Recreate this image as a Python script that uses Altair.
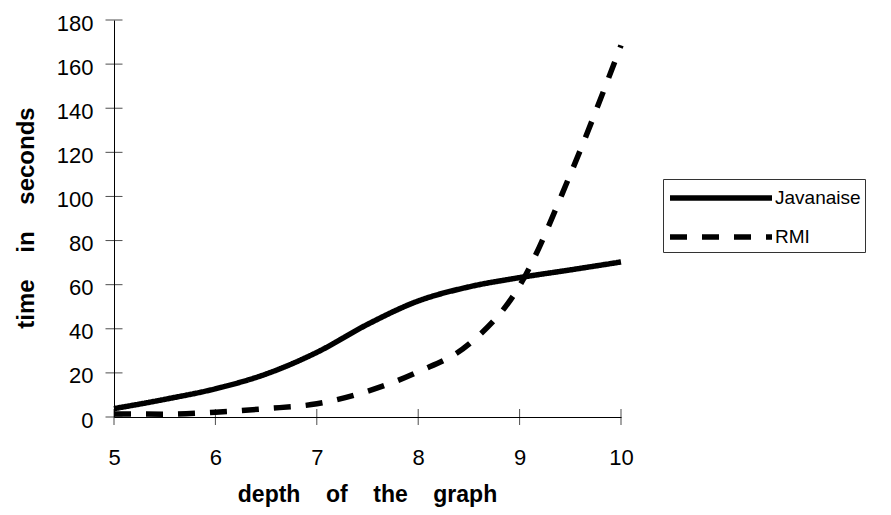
import altair as alt
import pandas as pd

# ---- data ----
depth = [5, 5.5, 6, 6.5, 7, 7.5, 8, 8.5, 9, 9.5, 10]
javanaise = [3.8, 8.0, 12.8, 19.5, 29.3, 42.0, 52.6, 59.0, 63.2, 66.7, 70.3]
rmi = [1.4, 1.3, 2.2, 3.8, 6.0, 11.7, 20.5, 33.0, 59.5, 110.0, 168.5]
series = ["Javanaise", "RMI"]
x_ticks = [5, 6, 7, 8, 9, 10]
y_ticks = [0, 20, 40, 60, 80, 100, 120, 140, 160, 180]

GAP = "\u00a0\u00a0\u00a0\u00a0"
x_title = GAP.join(["depth", "of", "the", "graph"])
y_title = GAP.join(["time", "in", "seconds"])

df = pd.DataFrame(
    {
        "depth": depth * 2,
        "time": javanaise + rmi,
        "series": [series[0]] * len(depth) + [series[1]] * len(depth),
    }
)
xt_df = pd.DataFrame({"t": x_ticks})
yt_df = pd.DataFrame({"t": y_ticks})

FONT = "Liberation Sans"
W, H = 507, 397

x_scale = alt.Scale(domain=[5, 10], nice=False, zero=False)
y_scale = alt.Scale(domain=[0, 180], nice=False)

x_axis = alt.Axis(
    values=x_ticks,
    format="d",
    ticks=False,
    tickSize=0,
    grid=False,
    domainColor="black",
    labelFont=FONT,
    labelFontSize=22,
    labelColor="black",
    labelPadding=30,
    labelFlush=False,
    titleFont=FONT,
    titleFontSize=23,
    titleFontWeight="bold",
    titleColor="black",
    titleX=253,
    titleY=84,
    titleBaseline="alphabetic",
    titleAlign="center",
)
y_axis = alt.Axis(
    values=y_ticks,
    format="d",
    ticks=False,
    tickSize=0,
    grid=False,
    domainColor="black",
    labelFont=FONT,
    labelFontSize=22,
    labelColor="black",
    labelPadding=21,
    labelOffset=3,
    labelFlush=False,
    titleFont=FONT,
    titleFontSize=24,
    titleFontWeight="bold",
    titleColor="black",
    titleAngle=270,
    titleX=-81,
    titleY=H / 2 - 1,
    titleBaseline="alphabetic",
    titleAlign="center",
)

lines = (
    alt.Chart(df)
    .mark_line(interpolate="monotone", strokeWidth=5.5, strokeCap="butt", color="black")
    .encode(
        x=alt.X("depth:Q", scale=x_scale, axis=x_axis, title=x_title),
        y=alt.Y("time:Q", scale=y_scale, axis=y_axis, title=y_title),
        strokeDash=alt.StrokeDash(
            "series:N",
            scale=alt.Scale(domain=series, range=[[1, 0], [17, 15]]),
            legend=alt.Legend(
                title=None,
                orient="none",
                legendX=549,
                legendY=159,
                symbolType="M-1,0H7.5",
                symbolSize=576,
                symbolStrokeWidth=5.5,
                symbolStrokeColor="black",
                labelFont=FONT,
                labelFontSize=19,
                labelColor="black",
                labelOffset=78,
                strokeColor="#333333",
                fillColor="white",
                padding=4,
                rowPadding=13,
            ),
        ),
    )
)

x_ticks_layer = (
    alt.Chart(xt_df)
    .mark_tick(orient="vertical", size=16, thickness=1, color="black")
    .encode(x=alt.X("t:Q", scale=x_scale, axis=x_axis, title=x_title), y=alt.datum(0))
)
y_ticks_layer = (
    alt.Chart(yt_df)
    .mark_tick(orient="horizontal", size=17, thickness=1, color="black")
    .encode(y=alt.Y("t:Q", scale=y_scale, axis=y_axis, title=y_title), x=alt.datum(5))
)

chart = (
    alt.layer(lines, x_ticks_layer, y_ticks_layer)
    .properties(
        width=W,
        height=H,
        padding={"left": 106, "top": 12, "right": 262, "bottom": 90},
        autosize=alt.AutoSizeParams(type="none"),
        background="white",
    )
    .configure_view(stroke=None)
)

chart.save("out.html", embed_options={"renderer": "svg", "actions": False})
